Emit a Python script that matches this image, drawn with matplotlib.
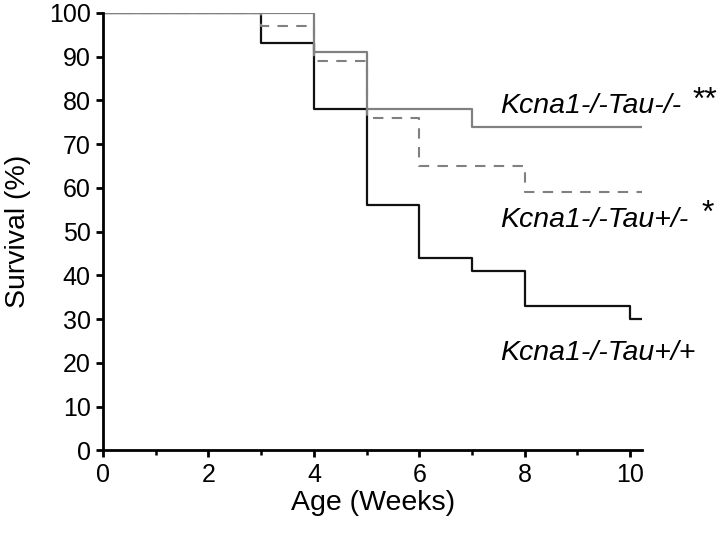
import matplotlib
matplotlib.use("Agg")
import matplotlib.pyplot as plt

plt.rcParams['font.family'] = ['Liberation Sans', 'DejaVu Sans']

# step data (week where the step starts, survival %)
weeks_ko = [0, 4, 5, 7, 10.23]
surv_ko = [100, 91, 78, 74, 74]

weeks_het = [0, 3, 4, 5, 6, 8, 10.23]
surv_het = [100, 97, 89, 76, 65, 59, 59]

weeks_wt = [0, 3, 4, 5, 6, 7, 8, 10, 10.23]
surv_wt = [100, 93, 78, 56, 44, 41, 33, 30, 30]

labels = ['Kcna1-/-Tau-/-', 'Kcna1-/-Tau+/-', 'Kcna1-/-Tau+/+']
stars = ['**', '*', '']

fig = plt.figure(figsize=(7.2, 5.33), dpi=100)
ax = fig.add_axes([0.1431, 0.1548, 0.749, 0.8212])

ax.step(weeks_wt, surv_wt, where='post', color='#111111', lw=1.6)
ax.step(weeks_het, surv_het, where='post', color='#808080', lw=1.5, ls=(0, (5, 4)))
ax.step(weeks_ko, surv_ko, where='post', color='#808080', lw=1.6)

ax.set_xlim(0, 10.23)
ax.set_ylim(0, 100)
ax.set_xticks([0, 2, 4, 6, 8, 10])
ax.set_xticks([1, 3, 5, 7, 9], minor=True)
ax.set_yticks(range(0, 101, 10))

for s in ['top', 'right']:
    ax.spines[s].set_visible(False)
for s in ['left', 'bottom']:
    ax.spines[s].set_linewidth(2)
ax.tick_params(axis='both', which='major', direction='out', length=5, width=2,
               labelsize=18, pad=4)
ax.tick_params(axis='x', which='minor', direction='out', length=3.5, width=1.8)

ax.set_xlabel('Age (Weeks)', fontsize=20.5, labelpad=2)
ax.set_ylabel('Survival (%)', fontsize=20.5, labelpad=13)

label_y = [77.1, 51.1, 20.7]
star_x = [11.18, 11.35, 0]
star_y = [78.0, 52.2, 0]
for lab, st, ly, sx, sy in zip(labels, stars, label_y, star_x, star_y):
    ax.text(7.53, ly, lab, fontsize=20.5, style='italic', va='baseline', ha='left', clip_on=False)
    if st:
        ax.text(sx, sy, st, fontsize=23, va='baseline', ha='left', clip_on=False)

fig.savefig('out.png', dpi=100)
